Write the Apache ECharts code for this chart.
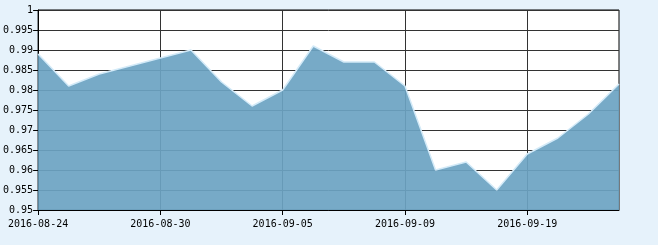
<!DOCTYPE html>
<html><head><meta charset="utf-8">
<script src="https://cdn.jsdelivr.net/npm/echarts@6/dist/echarts.min.js"></script>
<style>html,body{margin:0;padding:0;background:#e6f2fb;}#c{width:658px;height:245px;}</style>
</head><body><div id="c"></div>
<script>
var dates = ['2016-08-24','2016-08-25','2016-08-26','2016-08-29','2016-08-30','2016-08-31','2016-09-01','2016-09-02','2016-09-05','2016-09-06','2016-09-07','2016-09-08','2016-09-09','2016-09-12','2016-09-13','2016-09-14','2016-09-19','2016-09-20','2016-09-21','2016-09-22'];
var values = [0.989,0.981,0.984,0.986,0.988,0.990,0.982,0.976,0.980,0.991,0.987,0.987,0.981,0.960,0.962,0.955,0.964,0.968,0.974,0.9815];
var yMin = 0.95, yMax = 1, yStep = 0.005;
var chart = echarts.init(document.getElementById('c'), null, {renderer:'canvas'});
var font = 'DejaVu Sans Mono';
chart.setOption({
  backgroundColor: '#e6f2fb',
  animation: false,
  grid: {left: 38, top: 10, right: 39, bottom: 35, show: true, backgroundColor: '#ffffff', borderColor: '#000', borderWidth: 1},
  xAxis: {
    type: 'category', data: dates, boundaryGap: false,
    axisLine: {lineStyle: {color: '#000', width: 1}},
    axisTick: {interval: 3, length: 5, lineStyle: {color: '#000'}},
    axisLabel: {interval: 3, color: '#000', fontFamily: font, fontSize: 10, margin: 9},
    splitLine: {show: true, interval: 3, lineStyle: {color: '#333', width: 1}}
  },
  yAxis: {
    type: 'value', min: yMin, max: yMax, interval: yStep,
    axisLine: {show: true, lineStyle: {color: '#000', width: 1}},
    axisTick: {show: true, length: 5, lineStyle: {color: '#000'}},
    axisLabel: {color: '#000', fontFamily: font, fontSize: 10, margin: 5, formatter: function(v){ return +v.toFixed(3) + ''; }},
    splitLine: {show: true, lineStyle: {color: '#333', width: 1}}
  },
  series: [{
    type: 'line', data: values, symbol: 'none',
    lineStyle: {color: '#d3eaf8', width: 1.5},
    areaStyle: {color: '#6ba3c2', opacity: 0.92},
    z: 2
  }]
});
</script></body></html>
